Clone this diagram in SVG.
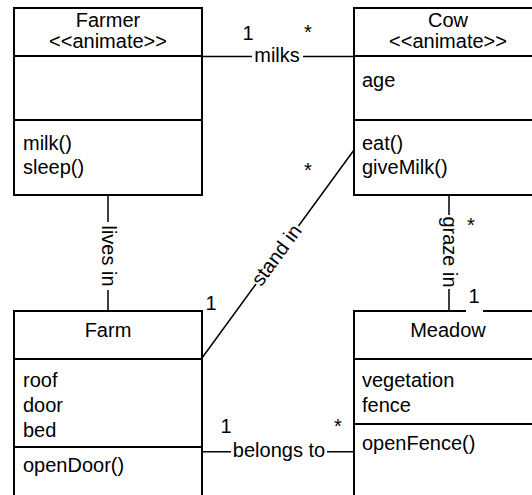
<svg xmlns="http://www.w3.org/2000/svg" width="532" height="495" viewBox="0 0 532 495">
<style>
.box{fill:#fff;stroke:#000;stroke-width:2}
.div{stroke:#000;stroke-width:2}
.con{fill:none;stroke:#000;stroke-width:1.5}
text{font-family:"Liberation Sans",Arial,sans-serif;font-size:20px;fill:#000}
.c{text-anchor:middle}
</style>
<rect width="532" height="495" fill="#fff"/>
<g id="Farmer">
<rect class="box" x="14" y="8" width="188" height="187"/>
<line class="div" x1="14" y1="56" x2="202" y2="56"/>
<line class="div" x1="14" y1="120" x2="202" y2="120"/>
<text class="c" x="108" y="27">Farmer</text>
<text class="c" x="108" y="48">&lt;&lt;animate&gt;&gt;</text>
<text x="23" y="150">milk()</text>
<text x="23" y="174">sleep()</text>
</g>
<g id="Cow">
<rect class="box" x="354" y="8" width="188" height="187"/>
<line class="div" x1="354" y1="56" x2="542" y2="56"/>
<line class="div" x1="354" y1="120" x2="542" y2="120"/>
<text class="c" x="448" y="27">Cow</text>
<text class="c" x="448" y="48">&lt;&lt;animate&gt;&gt;</text>
<text x="362" y="87">age</text>
<text x="362" y="150">eat()</text>
<text x="362" y="174">giveMilk()</text>
</g>
<g id="Farm">
<rect class="box" x="14" y="311" width="188" height="200"/>
<line class="div" x1="14" y1="359" x2="202" y2="359"/>
<line class="div" x1="14" y1="447" x2="202" y2="447"/>
<text class="c" x="108" y="337">Farm</text>
<text x="23" y="387">roof</text>
<text x="23" y="412">door</text>
<text x="23" y="437">bed</text>
<text x="23" y="472">openDoor()</text>
</g>
<g id="Meadow">
<rect class="box" x="354" y="311" width="188" height="200"/>
<line class="div" x1="354" y1="359" x2="542" y2="359"/>
<line class="div" x1="354" y1="424" x2="542" y2="424"/>
<text class="c" x="448" y="337">Meadow</text>
<text x="362" y="387">vegetation</text>
<text x="362" y="412">fence</text>
<text x="362" y="450">openFence()</text>
</g>
<g id="connectors">
<g id="milks">
<path class="con" d="M202,56.5 H252 M303,56.5 H354"/>
<text class="c" x="277" y="62">milks</text>
<text class="c" x="248" y="40">1</text>
<text class="c" x="308" y="39">*</text>
</g>
<g id="lives-in">
<path class="con" d="M108,195 V222 M108,290 V311"/>
<text class="c" transform="translate(108,256) rotate(90)" y="6">lives in</text>
</g>
<g id="graze-in">
<path class="con" d="M449,195 V215 M449,289 V311"/>
<text class="c" transform="translate(449,252) rotate(90)" y="6">graze in</text>
<text class="c" x="471" y="232">*</text>
<rect x="466" y="287" width="17" height="26" fill="#fff"/>
<text class="c" x="474" y="303">1</text>
</g>
<g id="stand-in">
<path class="con" d="M354,150 L298.5,226 M256,284 L202,358"/>
<text class="c" transform="translate(277,255.5) rotate(-53.8)" y="6">stand in</text>
<text class="c" x="308" y="177">*</text>
<text class="c" x="211" y="310">1</text>
</g>
<g id="belongs-to">
<path class="con" d="M202,451.7 H231 M327,451.7 H354"/>
<text class="c" x="279" y="457">belongs to</text>
<text class="c" x="226" y="433">1</text>
<text class="c" x="338" y="433">*</text>
</g>
</g>
</svg>
